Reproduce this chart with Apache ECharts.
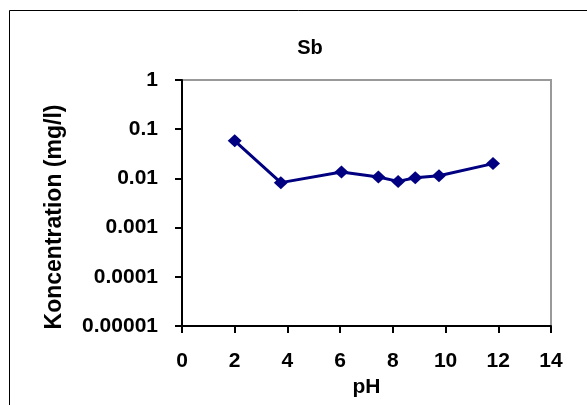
<!DOCTYPE html>
<html>
<head>
<meta charset="utf-8">
<script src="https://cdn.jsdelivr.net/npm/echarts@6/dist/echarts.min.js"></script>
<style>
  html, body { margin: 0; padding: 0; background: #fff; }
  #chart { width: 587px; height: 405px; }
</style>
</head>
<body>
<div id="chart"></div>
<script>
// pH values and Sb concentration (mg/l)
var phValues = [2.0, 3.75, 6.05, 7.45, 8.2, 8.85, 9.75, 11.8];
var sbValues = [0.058, 0.0082, 0.0135, 0.0107, 0.0087, 0.0103, 0.0113, 0.020];
var yTickLabels = ["0.00001", "0.0001", "0.001", "0.01", "0.1", "1"];

var font = "'Liberation Sans', Arial, sans-serif";

var chart = echarts.init(document.getElementById("chart"));

var option = {
  backgroundColor: "#fff",
  animation: false,
  title: {
    text: "Sb",
    left: 305,
    top: 33,
    textAlign: "center",
    textStyle: { fontFamily: font, fontWeight: "bold", fontSize: 20, color: "#000" }
  },
  graphic: [
    {
      type: "rect",
      shape: { x: 9.5, y: 10.5, width: 640, height: 440 },
      style: { fill: "none", stroke: "#000", lineWidth: 1 },
      silent: true
    }
  ],
  grid: {
    left: 182,
    right: 36,
    top: 80,
    bottom: 79,
    show: true,
    borderColor: "#999",
    borderWidth: 2
  },
  xAxis: {
    type: "value",
    min: 0,
    max: 14,
    interval: 2,
    name: "pH",
    nameLocation: "middle",
    nameGap: 47,
    nameTextStyle: { fontFamily: font, fontWeight: "bold", fontSize: 21, color: "#000" },
    axisLine: { onZero: false, lineStyle: { color: "#000", width: 2 } },
    axisTick: { inside: false, length: 7, lineStyle: { color: "#000", width: 2 } },
    axisLabel: { margin: 25, fontFamily: font, fontWeight: "bold", fontSize: 21, color: "#000" },
    splitLine: { show: false }
  },
  yAxis: {
    type: "log",
    logBase: 10,
    min: 0.00001,
    max: 1,
    name: "Koncentration (mg/l)",
    nameLocation: "middle",
    nameGap: 116,
    nameTextStyle: {
      fontFamily: font, fontWeight: "bold", fontSize: 23, color: "#000",
      padding: [0, 28, 0, 0]
    },
    axisLine: { show: true, lineStyle: { color: "#000", width: 2 } },
    axisTick: { show: true, inside: false, length: 7, lineStyle: { color: "#000", width: 2 } },
    axisLabel: {
      margin: 24,
      fontFamily: font, fontWeight: "bold", fontSize: 21, color: "#000",
      formatter: function (v) {
        var i = Math.round(Math.log10(v)) + 5;
        return yTickLabels[i] !== undefined ? yTickLabels[i] : "";
      }
    },
    splitLine: { show: false }
  },
  series: [
    {
      type: "line",
      data: phValues.map(function (x, i) { return [x, sbValues[i]]; }),
      symbol: "diamond",
      symbolSize: [14, 13],
      lineStyle: { color: "#000080", width: 3 },
      itemStyle: { color: "#000080" }
    }
  ]
};

chart.setOption(option);
</script>
</body>
</html>
